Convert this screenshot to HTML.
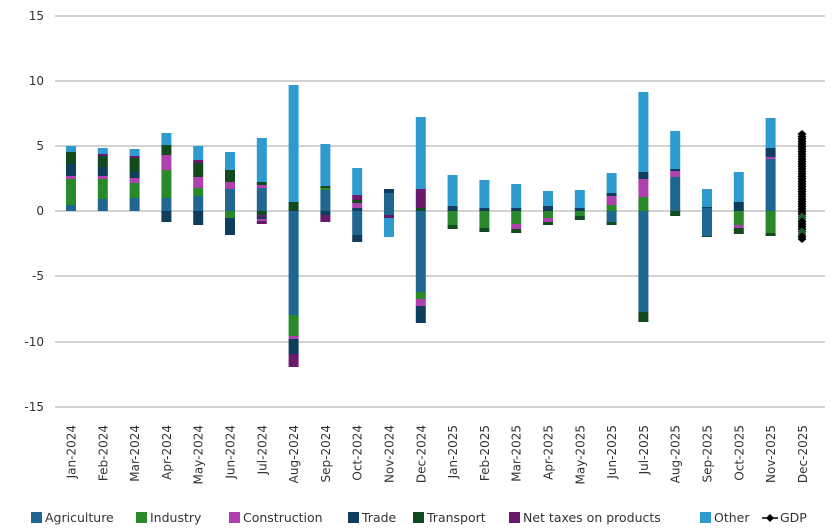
<!DOCTYPE html>
<html><head><meta charset="utf-8"><style>
body{margin:0;background:#fff}
svg{display:block;font-family:"DejaVu Sans","Liberation Sans",sans-serif}
</style></head><body>
<svg width="838" height="531" viewBox="0 0 838 531" xmlns="http://www.w3.org/2000/svg">
<g stroke="#c4c4c4" stroke-width="1.5">
<line x1="55" x2="825" y1="16" y2="16"/><line x1="55" x2="825" y1="81" y2="81"/>
<line x1="55" x2="825" y1="146" y2="146"/><line x1="55" x2="825" y1="211" y2="211"/>
<line x1="55" x2="825" y1="276" y2="276"/><line x1="55" x2="825" y1="342" y2="342"/>
<line x1="55" x2="825" y1="407" y2="407"/></g>
<g font-size="12" fill="#333" text-anchor="end">
<text x="44" y="20">15</text><text x="44" y="85">10</text><text x="44" y="150">5</text>
<text x="44" y="215">0</text><text x="44" y="280">-5</text><text x="44" y="346">-10</text><text x="44" y="411">-15</text></g>
<g id="bars"></g>
<g id="labels" font-size="12" fill="#333" text-anchor="end"></g>
<g font-size="12.5" fill="#333">
<rect x="31" y="512" width="11" height="11" fill="#1f6690"/><text x="45" y="522">Agriculture</text>
<rect x="136" y="512" width="11" height="11" fill="#2a8a2a"/><text x="150" y="522">Industry</text>
<rect x="229" y="512" width="11" height="11" fill="#b03fb0"/><text x="243" y="522">Construction</text>
<rect x="348" y="512" width="11" height="11" fill="#0f3e5c"/><text x="362" y="522">Trade</text>
<rect x="413" y="512" width="11" height="11" fill="#114a1e"/><text x="427" y="522">Transport</text>
<rect x="509" y="512" width="11" height="11" fill="#6a1a6a"/><text x="523" y="522">Net taxes on products</text>
<rect x="700" y="512" width="11" height="11" fill="#2e9bd0"/><text x="714" y="522">Other</text>
<path d="M766 518 l4 -4 4 4 -4 4z" fill="#000"/><line x1="762" x2="778" y1="518" y2="518" stroke="#000" stroke-width="1.5"/><text x="780" y="522">GDP</text>
</g>
<script>
var C={a:"#1f6690",i:"#2a8a2a",c:"#b03fb0",t:"#0f3e5c",r:"#114a1e",n:"#6a1a6a",o:"#2e9bd0"};
var D=[
[["o",146,152],["r",152,164],["t",164,176],["c",176,179],["i",179,205],["a",205,211]],
[["o",148,154],["n",154,156],["r",156,167],["t",167,176],["c",176,179],["i",179,199],["a",199,211]],
[["o",149,156],["n",156,158],["r",158,172],["t",172,178],["c",178,183],["i",183,198],["a",198,211]],
[["o",133,145],["r",145,155],["c",155,170],["i",170,198],["a",198,211],["t",211,222]],
[["o",146,160],["n",160,163],["r",163,177],["c",177,188],["i",188,196],["a",196,211],["t",211,225]],
[["o",152,170],["r",170,182],["c",182,189],["a",189,211],["i",211,218],["t",218,235]],
[["o",138,182],["r",182,185],["c",185,188],["a",188,211],["r",211,215],["n",215,217],["t",217,219],["c",219,221],["n",221,224]],
[["o",85,202],["r",202,211],["a",211,315],["i",315,336],["c",336,339],["t",339,354],["n",354,367]],
[["o",144,186],["r",186,188],["i",188,190],["a",190,211],["t",211,215],["n",215,222]],
[["o",168,195],["n",195,200],["r",200,203],["c",203,208],["t",208,211],["a",211,235],["t",235,242]],
[["t",189,193],["a",193,215],["n",215,218],["o",218,237]],
[["o",117,189],["n",189,208],["r",208,211],["a",211,292],["i",292,299],["c",299,306],["t",306,323]],
[["o",175,206],["t",206,211],["i",211,225],["r",225,229]],
[["o",180,208],["t",208,211],["i",211,228],["r",228,232]],
[["o",184,208],["t",208,211],["i",211,224],["c",224,229],["r",229,233]],
[["o",191,206],["t",206,211],["i",211,218],["c",218,222],["r",222,225]],
[["o",190,208],["t",208,211],["i",211,216],["r",216,220]],
[["o",173,193],["t",193,196],["c",196,205],["i",205,211],["a",211,222],["r",222,225]],
[["o",92,172],["t",172,179],["c",179,197],["i",197,211],["a",211,312],["r",312,322]],
[["o",131,169],["t",169,171],["c",171,177],["a",177,211],["r",211,216]],
[["o",189,207],["t",207,208],["a",208,211],["a",211,236],["r",236,237]],
[["o",172,202],["t",202,211],["i",211,225],["c",225,228],["r",228,234]],
[["o",118,148],["t",148,157],["c",157,159],["a",159,211],["i",211,233],["r",233,236]],
[]];
var L=["Jan","Feb","Mar","Apr","May","Jun","Jul","Aug","Sep","Oct","Nov","Dec"];
var ns="http://www.w3.org/2000/svg",b=document.getElementById("bars"),lg=document.getElementById("labels");
for(var k=0;k<24;k++){var x=71+k*31.8;
D[k].forEach(function(s){var r=document.createElementNS(ns,"rect");r.setAttribute("x",x-5);r.setAttribute("width",10);r.setAttribute("y",s[1]);r.setAttribute("height",s[2]-s[1]);r.setAttribute("fill",C[s[0]]);b.appendChild(r);});
var t=document.createElementNS(ns,"text");t.setAttribute("transform","translate("+(x+4.5)+",425) rotate(-90)");t.textContent=L[k%12]+"-"+(k<12?"2024":"2025");lg.appendChild(t);}
var x=802;
var bk=document.createElementNS(ns,"rect");bk.setAttribute("x",x-3.5);bk.setAttribute("width",7);bk.setAttribute("y",136);bk.setAttribute("height",103);bk.setAttribute("fill","#000");b.appendChild(bk);
for(var y=134;y<=241;y+=2.5){var p=document.createElementNS(ns,"path");p.setAttribute("d","M"+(x-4.5)+" "+y+" l4.5 -4 4.5 4 -4.5 4z");p.setAttribute("fill",(y>213&&y<236&&Math.floor(y)%3==0)?"#1f5a25":"#000");b.appendChild(p);}
</script>
</svg></body></html>
